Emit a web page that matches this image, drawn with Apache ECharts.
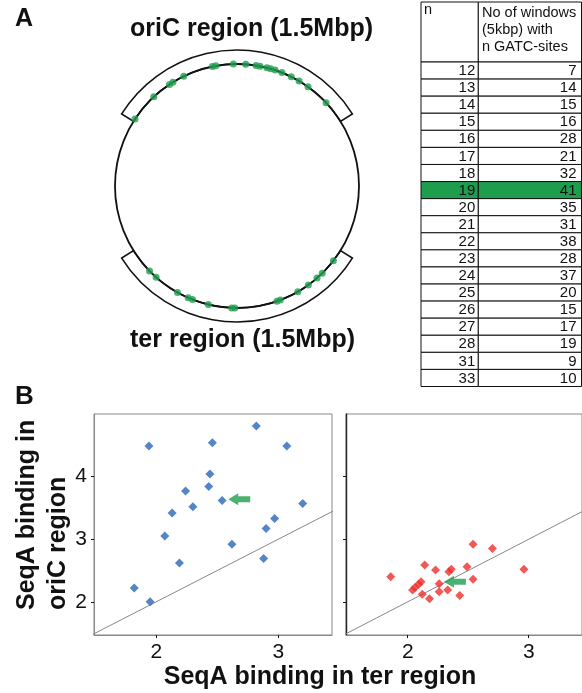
<!DOCTYPE html>
<html>
<head>
<meta charset="utf-8">
<script src="https://cdn.jsdelivr.net/npm/echarts@6/dist/echarts.min.js"></script>
<style>
html, body { margin: 0; padding: 0; background: #fff; }
#chart { width: 582px; height: 693px; }
</style>
</head>
<body>
<div id="chart"></div>
<script>
// --- panel A: sites on the chromosome, angle in degrees (90 = top, counter-clockwise)
var oriDotAngles = [146.7, 133, 123.6, 121.7, 115.9, 101.6, 100, 91.7, 85.9, 81, 79.1, 75.8, 74, 71.8, 68.4, 63.6, 59.4, 54.4, 43.1]
var terDotAngles = [224.2, 228.5, 240.8, 246.4, 248.6, 256.4, 267.5, 269, 289.1, 290.8, 299.9, 305.8, 311, 314.3, 322.2]
var oriRegion = [32, 148]
var terRegion = [212, 328]

// --- table
var nValues = [12, 13, 14, 15, 16, 17, 18, 19, 20, 21, 22, 23, 24, 25, 26, 27, 28, 31, 33]
var windowCounts = [7, 14, 15, 16, 28, 21, 32, 41, 35, 31, 38, 28, 37, 20, 15, 17, 19, 9, 10]
var highlightN = 19

// --- panel B: [ter, oriC]
var bluePoints = [[1.94, 4.49], [2.82, 4.81], [2.46, 4.54], [3.07, 4.49], [2.44, 4.04], [2.43, 3.84], [2.24, 3.77],
  [2.54, 3.62], [2.30, 3.52], [2.13, 3.42], [3.20, 3.57], [2.97, 3.33], [2.90, 3.17], [2.07, 3.05], [2.62, 2.92],
  [2.88, 2.69], [2.19, 2.62], [1.82, 2.22], [1.95, 2.00]]
var redPoints = [[1.86, 2.40], [2.14, 2.59], [2.23, 2.51], [2.34, 2.48], [2.36, 2.52], [2.49, 2.56], [2.54, 2.92],
  [2.70, 2.85], [2.96, 2.52], [2.54, 2.36], [2.26, 2.29], [2.04, 2.19], [2.06, 2.23], [2.09, 2.28], [2.11, 2.32],
  [2.12, 2.12], [2.18, 2.05], [2.26, 2.16], [2.33, 2.19], [2.43, 2.10]]
var blueArrow = [2.68, 3.64]
var redArrow = [2.39, 2.32]
var diagonal = [[1.4, 1.4], [3.6, 3.6]]
var xTicks = [2, 3]
var yTicks = [2, 3, 4]

var FONT = "'Liberation Sans', Arial, sans-serif"
var GREEN = '#1f9d4f'
var arrowPath = 'path://M0,6L10,0L10,3L22,3L22,9L10,9L10,12Z'

var cx = 237, cy = 186, R = 122, R2 = 136
var deg = Math.PI / 180
// canvas angles go clockwise, so flip the sign
function band (range) {
  return {
    type: 'sector',
    shape: { cx: cx, cy: cy, r0: R, r: R2, startAngle: -range[1] * deg, endAngle: -range[0] * deg, clockwise: true },
    style: { fill: 'none', stroke: '#111', lineWidth: 1.6 }
  }
}
function txt (x, y, text, size, bold, align, extra) {
  var el = {
    type: 'text', x: x, y: y,
    style: { text: text, font: (bold ? 'bold ' : '') + size + 'px ' + FONT, fill: '#111', textAlign: align || 'left', textVerticalAlign: 'middle' }
  }
  return Object.assign(el, extra || {})
}

var tableLeft = 421, tableTop = 62, tableW = 160.5, tableH = 324.5
var colSplit = 57.3 / tableW

var scatterX = function (gi) {
  return {
    gridIndex: gi, type: 'value', min: 1.49, max: 3.44,
    axisLine: { lineStyle: { color: '#888', width: 1 } },
    axisTick: { customValues: xTicks, length: 3, lineStyle: { color: '#111' } },
    axisLabel: { customValues: xTicks, fontSize: 21, color: '#111', fontFamily: FONT, margin: 7 },
    splitLine: { show: false }
  }
}

var chart = echarts.init(document.getElementById('chart'))
chart.setOption({
  animation: false,
  polar: { center: [cx, cy], radius: [0, R] },
  angleAxis: {
    type: 'value', min: 0, max: 360, startAngle: 0, clockwise: false,
    axisLine: { lineStyle: { color: '#111', width: 1.8 } },
    axisTick: { show: false }, axisLabel: { show: false }, splitLine: { show: false }
  },
  radiusAxis: { type: 'value', min: 0, max: 1, show: false, splitLine: { show: false } },
  grid: [
    { left: 94, top: 414, width: 238, height: 221, show: true, borderColor: '#888', borderWidth: 1 },
    { left: 346, top: 414, width: 238, height: 221, show: true, borderColor: '#888', borderWidth: 1 },
    { left: tableLeft, top: tableTop, width: tableW, height: tableH }
  ],
  xAxis: [
    scatterX(0),
    scatterX(1),
    { gridIndex: 2, type: 'value', min: 0, max: 1, show: false }
  ],
  yAxis: [
    {
      gridIndex: 0, type: 'value', min: 1.47, max: 5,
      axisLine: { show: true, lineStyle: { color: '#888' } },
      axisTick: { show: true, customValues: yTicks, length: 3, lineStyle: { color: '#111' } },
      axisLabel: { customValues: yTicks, fontSize: 21, color: '#111', fontFamily: FONT, margin: 7 },
      splitLine: { show: false }
    },
    {
      gridIndex: 1, type: 'value', min: 1.47, max: 5,
      axisLine: { show: true, lineStyle: { color: '#222', width: 1.4 } },
      axisTick: { show: true, customValues: yTicks, length: 3, lineStyle: { color: '#111' } },
      axisLabel: { show: false },
      splitLine: { show: false }
    },
    { gridIndex: 2, type: 'category', data: nValues.map(String), inverse: true, show: false }
  ],
  graphic: [
    band(oriRegion),
    band(terRegion),
    txt(15, 19, 'A', 25, true),
    txt(15, 397, 'B', 26, true),
    txt(130, 29, 'oriC region (1.5Mbp)', 25, true),
    txt(130, 340, 'ter region (1.5Mbp)', 25, true),
    txt(27, 610, 'SeqA binding in', 25, true, 'left', { rotation: Math.PI / 2 }),
    txt(58, 610, 'oriC region', 25, true, 'left', { rotation: Math.PI / 2 }),
    txt(320, 677, 'SeqA binding in ter region', 25, true, 'center'),
    // table header
    { type: 'rect', shape: { x: tableLeft, y: 2, width: 57.3, height: tableTop - 2 }, style: { fill: '#fff', stroke: '#111', lineWidth: 1 } },
    { type: 'rect', shape: { x: tableLeft + 57.3, y: 2, width: tableW - 57.3, height: tableTop - 2 }, style: { fill: '#fff', stroke: '#111', lineWidth: 1 } },
    txt(424, 10, 'n', 14.5, false),
    txt(482, 13, 'No of windows', 14.5, false),
    txt(482, 30, '(5kbp) with', 14.5, false),
    txt(482, 47, 'n GATC-sites', 14.5, false)
  ],
  series: [
    {
      type: 'scatter', coordinateSystem: 'polar', symbolSize: 7,
      itemStyle: { color: GREEN },
      data: oriDotAngles.concat(terDotAngles).map(function (a) { return [1, a] })
    },
    {
      type: 'line', xAxisIndex: 0, yAxisIndex: 0, data: diagonal, symbol: 'none',
      lineStyle: { color: '#888', width: 1 }, z: 1
    },
    {
      type: 'line', xAxisIndex: 1, yAxisIndex: 1, data: diagonal, symbol: 'none',
      lineStyle: { color: '#888', width: 1 }, z: 1
    },
    {
      type: 'scatter', xAxisIndex: 0, yAxisIndex: 0, symbol: 'diamond', symbolSize: 9,
      itemStyle: { color: '#2b67b8' }, data: bluePoints
    },
    {
      type: 'scatter', xAxisIndex: 1, yAxisIndex: 1, symbol: 'diamond', symbolSize: 9,
      itemStyle: { color: '#ec2f2a' }, data: redPoints
    },
    {
      type: 'scatter', xAxisIndex: 0, yAxisIndex: 0, symbol: arrowPath, symbolSize: [22, 12],
      itemStyle: { color: GREEN }, data: [blueArrow], z: 3
    },
    {
      type: 'scatter', xAxisIndex: 1, yAxisIndex: 1, symbol: arrowPath, symbolSize: [22, 12],
      itemStyle: { color: GREEN }, data: [redArrow], z: 3
    },
    {
      // table rows
      type: 'custom', xAxisIndex: 2, yAxisIndex: 2,
      encode: { x: 0, y: 1 },
      data: nValues.map(function (n, i) { return [0, i, n, windowCounts[i]] }),
      renderItem: function (params, api) {
        var c = api.coord([0, api.value(1)])
        var h = api.size([0, 1])[1]
        var x0 = params.coordSys.x, w = params.coordSys.width
        var xs = x0 + w * colSplit
        var y0 = c[1] - h / 2
        var fill = api.value(2) === highlightN ? GREEN : '#fff'
        var font = '15px ' + FONT
        return {
          type: 'group',
          children: [
            { type: 'rect', shape: { x: x0, y: y0, width: xs - x0, height: h }, style: { fill: fill, stroke: '#111', lineWidth: 1 } },
            { type: 'rect', shape: { x: xs, y: y0, width: x0 + w - xs, height: h }, style: { fill: fill, stroke: '#111', lineWidth: 1 } },
            { type: 'text', style: { text: String(api.value(2)), x: xs - 3, y: c[1] + 0.5, font: font, fill: '#111', textAlign: 'right', textVerticalAlign: 'middle' } },
            { type: 'text', style: { text: String(api.value(3)), x: x0 + w - 5, y: c[1] + 0.5, font: font, fill: '#111', textAlign: 'right', textVerticalAlign: 'middle' } }
          ]
        }
      }
    }
  ]
})
</script>
</body>
</html>
